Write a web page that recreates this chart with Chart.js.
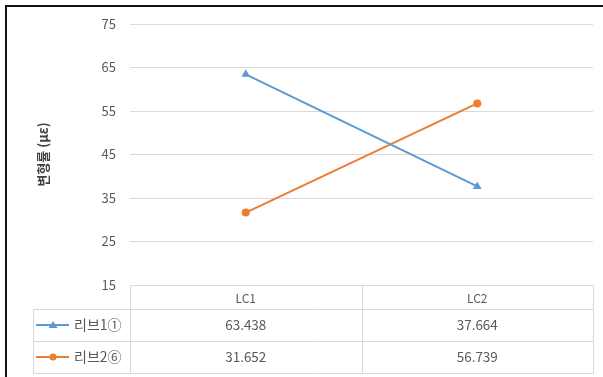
<!DOCTYPE html>
<html>
<head>
<meta charset="utf-8">
<script src="https://cdn.jsdelivr.net/npm/chart.js@4.4.1/dist/chart.umd.min.js"></script>
<style>
  html, body { margin: 0; padding: 0; background: #fff; overflow: hidden; }
  #wrap { position: relative; width: 603px; height: 377px; }
  #frame { position: absolute; left: 5px; top: 5px; width: 620px; height: 400px;
           border-left: 2px solid #111; border-top: 2px solid #111; pointer-events: none; }
  canvas { position: absolute; left: 0; top: 0; }
</style>
</head>
<body>
<div id="wrap">
  <canvas id="c" width="603" height="377"></canvas>
  <div id="frame"></div>
</div>
<script>
// Load cases and measured strain per rib
const categories = ['LC1', 'LC2'];
const seriesNames = ['리브1①', '리브2⑥'];
const rib1 = [63.438, 37.664];
const rib2 = [31.652, 56.739];
const yTicks = [15, 25, 35, 45, 55, 65, 75];

const BLUE = '#5b9bd5';
const ORANGE = '#ed7d31';
const GRID = '#d9d9d9';
const TEXT = '#595959';
const FONT = '"Noto Sans CJK KR", "Noto Sans", sans-serif';

// Data table under the plot: header row with categories, one row per series
const dataTable = {
  id: 'dataTable',
  afterDraw(chart) {
    const ctx = chart.ctx;
    const area = chart.chartArea;
    const xs = chart.scales.x;
    const rowH = [24, 32, 32];
    const headTop = area.bottom;
    const r1 = headTop + rowH[0];
    const r2 = r1 + rowH[1];
    const r3 = r2 + rowH[2];
    const keyLeft = 33;
    const px = categories.map((_, i) => xs.getPixelForValue(i));
    const splits = [area.left];
    for (let i = 0; i < px.length - 1; i++) splits.push((px[i] + px[i + 1]) / 2);
    splits.push(area.right);

    ctx.save();
    ctx.strokeStyle = GRID;
    ctx.lineWidth = 1;
    const line = (x1, y1, x2, y2) => {
      ctx.beginPath();
      ctx.moveTo(Math.round(x1) + 0.5, Math.round(y1) + 0.5);
      ctx.lineTo(Math.round(x2) + 0.5, Math.round(y2) + 0.5);
      ctx.stroke();
    };
    line(area.left, headTop, area.right, headTop);
    [r1, r2, r3].forEach(y => line(keyLeft, y, area.right, y));
    line(keyLeft, r1, keyLeft, r3);
    splits.forEach(x => line(x, headTop, x, r3));

    ctx.fillStyle = TEXT;
    ctx.font = '12px ' + FONT;
    ctx.textAlign = 'center';
    ctx.textBaseline = 'middle';
    categories.forEach((c, i) => ctx.fillText(c, px[i], headTop + rowH[0] / 2 + 1));

    const rows = [
      { name: seriesNames[0], vals: rib1, color: BLUE, shape: 'triangle', y: r1 + rowH[1] / 2 },
      { name: seriesNames[1], vals: rib2, color: ORANGE, shape: 'circle', y: r2 + rowH[2] / 2 }
    ];
    rows.forEach(r => {
      ctx.font = '13.5px ' + FONT;
      r.vals.forEach((v, i) => {
        ctx.fillStyle = TEXT;
        ctx.textAlign = 'center';
        ctx.fillText(v.toFixed(3), px[i], r.y);
      });
      // legend key: short line with marker
      ctx.strokeStyle = r.color;
      ctx.lineWidth = 2;
      ctx.beginPath();
      ctx.moveTo(36, r.y);
      ctx.lineTo(69, r.y);
      ctx.stroke();
      ctx.fillStyle = r.color;
      ctx.beginPath();
      if (r.shape === 'circle') {
        ctx.arc(53, r.y, 3.5, 0, Math.PI * 2);
      } else {
        ctx.moveTo(53, r.y - 4);
        ctx.lineTo(57.5, r.y + 3);
        ctx.lineTo(48.5, r.y + 3);
        ctx.closePath();
      }
      ctx.fill();
      ctx.fillStyle = TEXT;
      ctx.textAlign = 'left';
      ctx.font = '14px ' + FONT;
      ctx.fillText(r.name, 74, r.y);
    });
    ctx.restore();
  }
};

new Chart(document.getElementById('c'), {
  type: 'line',
  data: {
    labels: categories,
    datasets: [
      {
        label: seriesNames[0],
        data: rib1,
        borderColor: BLUE,
        backgroundColor: BLUE,
        borderWidth: 2,
        pointStyle: 'triangle',
        pointRadius: 5,
        pointBorderWidth: 0
      },
      {
        label: seriesNames[1],
        data: rib2,
        borderColor: ORANGE,
        backgroundColor: ORANGE,
        borderWidth: 2,
        pointStyle: 'circle',
        pointRadius: 4,
        pointBorderWidth: 0
      }
    ]
  },
  options: {
    responsive: false,
    animation: false,
    layout: { padding: { left: 0, right: 10, top: 24, bottom: 92 } },
    plugins: {
      legend: { display: false },
      tooltip: { enabled: false }
    },
    scales: {
      x: {
        display: false,
        offset: true
      },
      y: {
        min: 15,
        max: 75,
        afterBuildTicks(scale) {
          scale.ticks = yTicks.map(v => ({ value: v }));
        },
        afterFit(scale) { scale.width = 130; },
        border: { display: false },
        grid: { color: GRID, lineWidth: 1, drawTicks: false },
        ticks: {
          color: TEXT,
          padding: 14,
          font: { family: FONT, size: 13 }
        },
        title: {
          display: true,
          text: '변형률 (με)',
          color: '#404040',
          font: { family: FONT, size: 13, weight: 'bold' },
          padding: { top: 35, bottom: 0 }
        }
      }
    }
  },
  plugins: [dataTable]
});
</script>
</body>
</html>
